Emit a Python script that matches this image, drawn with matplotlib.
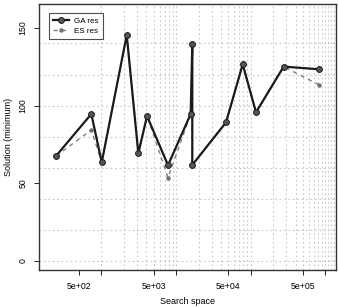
import matplotlib
matplotlib.use("Agg")
import matplotlib.pyplot as plt
import numpy as np

# ---- data ----
search_space = [246, 731, 1008, 2180, 3118, 4080, 7800, 15700, 16500, 16500,
                46700, 78200, 118000, 277000, 824000]
ga_res = [67.6, 94.6, 63.5, 145.4, 69.3, 93.3, 61.6, 94.6, 139.6, 61.8,
          89.2, 126.6, 95.7, 125.1, 123.4]
es_res = [67.6, 84.3, 63.5, 145.4, 69.3, 93.3, 53.6, 94.6, 139.6, 61.8,
          89.2, 126.6, 95.7, 125.1, 113.3]
x_ticks = [5e2, 1e3, 5e3, 1e4, 5e4, 1e5, 5e5, 1e6]
x_tick_labels = ["5e+02", "", "5e+03", "", "5e+04", "", "5e+05", ""]
y_ticks = [0, 50, 100, 150]
legend_labels = ["GA res", "ES res"]
x_title = "Search space"
y_title = "Solution (minimum)"

W, H = 339, 307
fig = plt.figure(figsize=(W / 100, H / 100), dpi=100)
plt.rcParams['font.family'] = ['Liberation Sans', 'DejaVu Sans']
L, R, T, B = 38.7, 335.7, 4.0, 269.5
ax = fig.add_axes([L / W, (H - B) / H, (R - L) / W, (B - T) / H])
ax.set_xscale('log')
ax.set_xlim(144, 1.38e6)
ax.set_ylim(-5.5, 165.4)

# grid
gcol = '#c8c8c8'
vgrid = list(np.arange(1, 10) * 1e3) + list(np.arange(1, 10) * 1e4) + list(np.arange(1, 15) * 1e5)
for v in vgrid:
    ax.axvline(v, color=gcol, lw=0.8, ls=(0, (1.5, 2.5)), zorder=0)
for h in range(0, 141, 20):
    ax.axhline(h, color=gcol, lw=0.8, ls=(0, (1.5, 2.5)), zorder=0)

ax.plot(search_space, es_res, color='#808080', lw=1.0, ls=(0, (3, 3)), marker='o', ms=2.2,
        mfc='#707070', mec='#707070', label=legend_labels[1], zorder=3)
ax.plot(search_space, ga_res, color='#1a1a1a', lw=1.6, marker='o', ms=4.2,
        mfc='#555555', mec='#1a1a1a', mew=0.7, label=legend_labels[0], zorder=4)

ax.set_xticks(x_ticks)
ax.set_xticklabels(x_tick_labels)
ax.xaxis.set_minor_locator(matplotlib.ticker.NullLocator())
ax.set_yticks(y_ticks)
ax.set_yticklabels([str(v) for v in y_ticks], rotation=90, va='center')
ax.tick_params(axis='both', labelsize=6.3, length=3.8, width=0.7, color='#222222', direction='out')
ax.tick_params(axis='x', pad=5.0)
ax.tick_params(axis='y', pad=4.3)
for s in ax.spines.values():
    s.set_linewidth(1.0)
    s.set_color('#333333')

ax.set_xlabel(x_title, fontsize=6.5)
ax.xaxis.set_label_coords(0.5, -0.12)
ax.xaxis.label.set_va('center')
ax.set_ylabel(y_title, fontsize=6.5)
ax.yaxis.set_label_coords(-0.103, 0.5)
ax.yaxis.label.set_va('center')

handles, labels = ax.get_legend_handles_labels()
leg = ax.legend(handles[::-1], labels[::-1], loc='upper left',
                bbox_to_anchor=((49.3 - L) / (R - L), (B - 13.3) / (B - T)),
                fontsize=5.8, frameon=True, fancybox=False, handlelength=2.0,
                borderpad=0.5, labelspacing=0.25, handletextpad=0.6, borderaxespad=0)
leg.get_frame().set_edgecolor('#222222')
leg.get_frame().set_linewidth(0.8)

fig.savefig("out.png", dpi=100)
